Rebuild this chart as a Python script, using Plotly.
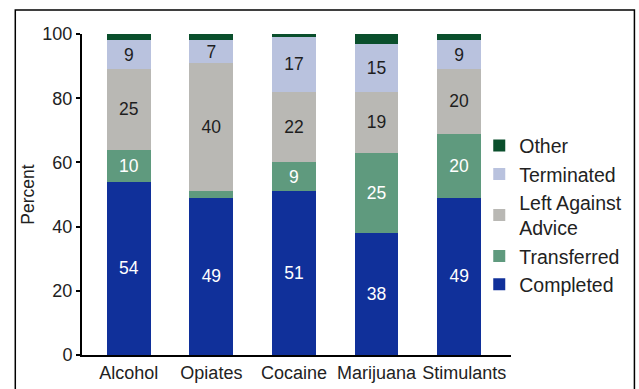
import plotly.graph_objects as go

# Treatment outcome by primary substance (percent of discharges)
substances = ["Alcohol", "Opiates", "Cocaine", "Marijuana", "Stimulants"]
tick_labels = ["Alcohol", "Opiates", "Cocaine", "Marijuana", "\u00a0\u00a0Stimulants"]
completed = [54, 49, 51, 38, 49]
transferred = [10, 2, 9, 25, 20]
left_against_advice = [25, 40, 22, 19, 20]
terminated = [9, 7, 17, 15, 9]
other = [2, 2, 1, 3, 2]

series = [
    ("Completed", completed, "#10309a", "white", 5),
    ("Transferred", transferred, "#5f9a7e", "white", 5),
    ("Left Against<br>Advice", left_against_advice, "#b9b8b4", "#1e1e1e", 5),
    ("Terminated", terminated, "#b9c2de", "#1e1e1e", 5),
    ("Other", other, "#0a4f2c", "white", 100),
]

FONT = "Liberation Sans, Arial, sans-serif"

fig = go.Figure()
for name, vals, color, tcolor, min_label in series:
    fig.add_trace(go.Bar(
        name=name,
        x=substances,
        y=vals,
        width=0.53,
        marker=dict(color=color, line=dict(width=0)),
        text=[str(v) if v >= min_label else "" for v in vals],
        textposition="inside",
        insidetextanchor="middle",
        textangle=0,
        constraintext="none",
        textfont=dict(family=FONT, size=17.5, color=tcolor),
        hoverinfo="skip",
    ))

fig.update_layout(
    width=639,
    height=389,
    barmode="stack",
    paper_bgcolor="white",
    plot_bgcolor="white",
    margin=dict(l=82, r=126, t=34, b=34),
    font=dict(family=FONT, size=18, color="#222222"),
    showlegend=True,
    legend=dict(
        traceorder="reversed",
        x=0.926,
        xanchor="left",
        y=0.712,
        yanchor="top",
        font=dict(family=FONT, size=19.5, color="#222222"),
        bgcolor="rgba(0,0,0,0)",
        itemclick=False,
        itemdoubleclick=False,
    ),
    xaxis=dict(
        range=[-0.566, 4.627],
        tickmode="array",
        tickvals=substances,
        ticktext=tick_labels,
        showline=True,
        linecolor="black",
        linewidth=2,
        ticks="",
        tickangle=0,
        automargin=False,
        showgrid=False,
        zeroline=False,
        tickfont=dict(family=FONT, size=18, color="#222222"),
    ),
    yaxis=dict(
        range=[0, 100],
        tickvals=[0, 20, 40, 60, 80, 100],
        showline=True,
        linecolor="black",
        linewidth=2,
        ticks="outside",
        ticklen=4,
        tickwidth=2,
        tickcolor="black",
        automargin=False,
        showgrid=False,
        zeroline=False,
        tickfont=dict(family=FONT, size=18, color="#222222"),
        title=dict(text="Percent", font=dict(family=FONT, size=17.5, color="#222222"), standoff=3),
    ),
    shapes=[
        dict(
            type="rect",
            xref="paper", yref="paper",
            x0=-0.1555, x1=1.2877, y0=-0.13, y1=1.0748,
            line=dict(color="black", width=1.5),
            fillcolor="rgba(0,0,0,0)",
            layer="below",
        )
    ],
)

fig.write_html("out.html")
